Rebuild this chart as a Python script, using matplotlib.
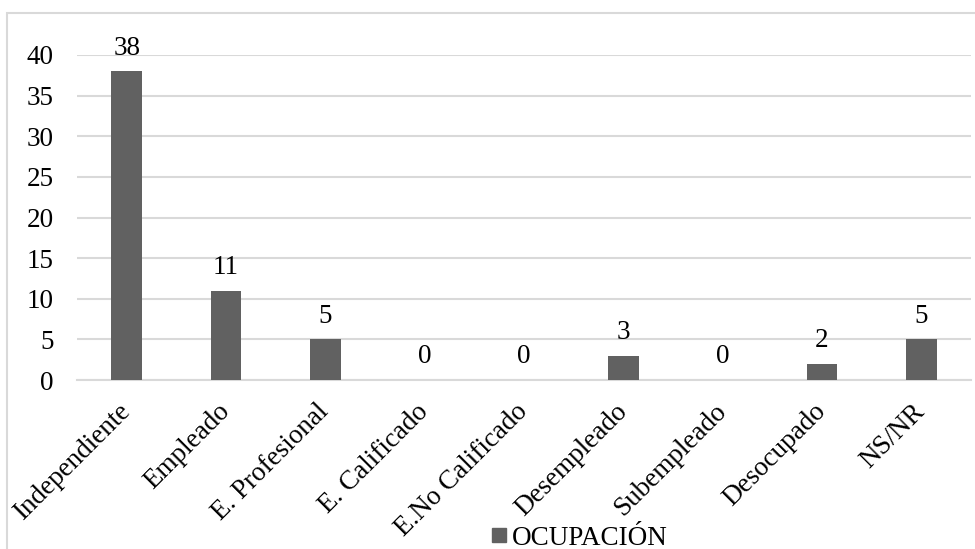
import matplotlib
matplotlib.use("Agg")
import matplotlib.pyplot as plt
from matplotlib.patches import Rectangle
from matplotlib.lines import Line2D

categories = ["Independiente", "Empleado", "E. Profesional", "E. Calificado",
              "E.No Calificado", "Desempleado", "Subempleado", "Desocupado", "NS/NR"]
values = [38, 11, 5, 0, 0, 3, 0, 2, 5]
yticks = [0, 5, 10, 15, 20, 25, 30, 35, 40]
series_name = "OCUPACIÓN"

plt.rcParams['font.family'] = ['Liberation Serif', 'DejaVu Serif']
FS = 19.5
BAR = "#616161"
GRID = "#d9d9d9"

fig = plt.figure(figsize=(9.75, 5.49), dpi=100)
W, H = 975, 549
ax = fig.add_axes([77 / W, 1 - 380 / H, (971 - 77) / W, (380 - 55) / H])

x = list(range(len(categories)))
ax.bar(x, values, width=0.31, color=BAR, zorder=3)
ax.set_xlim(-0.5, len(categories) - 0.5)
ax.set_ylim(0, 40)
ax.set_yticks(yticks)
ax.set_yticklabels([str(t) for t in yticks], fontsize=FS)
ax.yaxis.grid(True, color=GRID, linewidth=1.5, zorder=0)
ax.set_axisbelow(True)
for s in ["top", "right", "left"]:
    ax.spines[s].set_visible(False)
ax.spines["bottom"].set_color(GRID)
ax.spines["bottom"].set_linewidth(1.5)
ax.tick_params(axis='y', length=0, pad=17)
ax.tick_params(axis='x', length=0, pad=20)
ax.set_xticks(x)
ax.set_xticklabels(categories, fontsize=FS, rotation=45, ha='right',
                   va='center', rotation_mode='anchor')

for xi, v in zip(x, values):
    ax.annotate(str(v), (xi, v), xytext=(0, 12), textcoords='offset points',
                ha='center', va='baseline', fontsize=FS)

# legend
handle = Line2D([], [], marker='s', color='none', markerfacecolor=BAR,
                markeredgecolor=BAR, markersize=10)
fig.legend([handle], [series_name], loc='lower left',
           bbox_to_anchor=(479 / W, -0.028), frameon=False, fontsize=FS,
           handlelength=0.5, handletextpad=0.2, borderpad=0.0)

# outer border
fig.patches.append(Rectangle((7 / W, -0.05), 1.2, 1 - 13 / H + 0.05,
                             transform=fig.transFigure, fill=False,
                             edgecolor=GRID, linewidth=1.5))

fig.savefig("out.png", dpi=100)
